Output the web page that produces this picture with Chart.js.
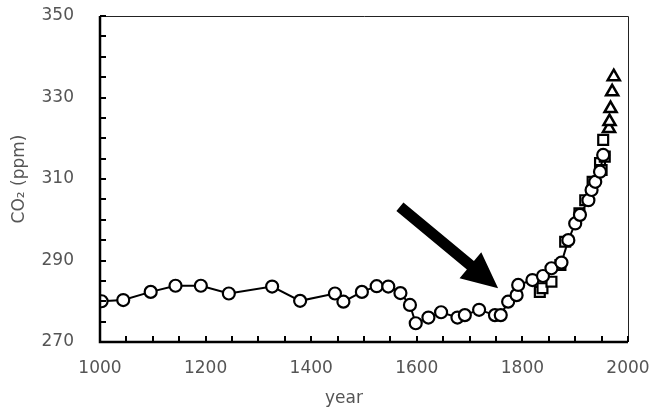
<!DOCTYPE html>
<html>
<head>
<meta charset="utf-8">
<script src="https://cdn.jsdelivr.net/npm/chart.js@4/dist/chart.umd.min.js"></script>
<style>
  body { margin: 0; background: #fff; }
</style>
</head>
<body>
<canvas id="co2Chart" width="663" height="410"></canvas>
<script>
// ice core record (circles, joined by a line)
const circleYears = [1003, 1044, 1096, 1143, 1191, 1244, 1326, 1379, 1445, 1461, 1496, 1524, 1546, 1569, 1587, 1598, 1622, 1646, 1677, 1691, 1718, 1748, 1759, 1773, 1789, 1792, 1819, 1839, 1855, 1874, 1887, 1900, 1909, 1925, 1931, 1938, 1947, 1953];
const circleCO2 = [280.0, 280.3, 282.3, 283.8, 283.8, 281.9, 283.6, 280.1, 281.9, 279.9, 282.3, 283.7, 283.6, 282.0, 279.1, 274.6, 276.0, 277.3, 276.0, 276.6, 277.9, 276.6, 276.6, 279.9, 281.5, 284.0, 285.2, 286.2, 288.1, 289.5, 295.0, 299.1, 301.2, 304.8, 307.3, 309.3, 311.8, 315.9];

// second ice core (squares)
const squareYears = [1833, 1838, 1855, 1872, 1881, 1908, 1919, 1933, 1947, 1950, 1953, 1956];
const squareCO2 = [282.3, 283.2, 284.8, 288.9, 294.6, 301.6, 304.8, 309.3, 313.9, 312.2, 319.6, 315.5];

// atmospheric measurements (triangles)
const triangleYears = [1964, 1965, 1967, 1970, 1973];
const triangleCO2 = [322.4, 324.1, 327.3, 331.4, 335.1];

const yearTicks = [1000, 1200, 1400, 1600, 1800, 2000];
const co2Ticks = [270, 290, 310, 330, 350];

// arrow annotation, in data units
const arrowFrom = { year: 1568, co2: 303.2 };
const arrowTo = { year: 1754, co2: 283.2 };

function toPoints(xs, ys) {
  return xs.map((x, i) => ({ x: x, y: ys[i] }));
}

const labelFont = { family: "DejaVu Sans", size: 17 };
const textColor = "#555";

// frame, inward ticks, titles and the arrow
const framePlugin = {
  id: "frame",
  afterDraw(chart) {
    const ctx = chart.ctx;
    const a = chart.chartArea;
    const xs = chart.scales.x;
    const ys = chart.scales.y;
    ctx.save();

    // thin top and right border
    ctx.strokeStyle = "#222";
    ctx.lineWidth = 1;
    ctx.beginPath();
    ctx.moveTo(a.left, a.top + 0.5);
    ctx.lineTo(a.right + 0.5, a.top + 0.5);
    ctx.lineTo(a.right + 0.5, a.bottom);
    ctx.stroke();

    // heavy left and bottom axes
    ctx.strokeStyle = "#000";
    ctx.lineWidth = 2.5;
    ctx.beginPath();
    ctx.moveTo(a.left, a.top);
    ctx.lineTo(a.left, a.bottom);
    ctx.lineTo(a.right, a.bottom);
    ctx.stroke();

    // ticks pointing inward
    ctx.lineWidth = 2;
    ctx.beginPath();
    ys.ticks.forEach(t => {
      const py = Math.round(ys.getPixelForValue(t.value));
      ctx.moveTo(a.left, py);
      ctx.lineTo(a.left + 6, py);
    });
    xs.ticks.forEach(t => {
      const px = Math.round(xs.getPixelForValue(t.value));
      ctx.moveTo(px, a.bottom);
      ctx.lineTo(px, a.bottom - 6);
    });
    ctx.stroke();

    // axis titles
    ctx.fillStyle = textColor;
    ctx.font = "17px 'DejaVu Sans'";
    ctx.textAlign = "center";
    ctx.textBaseline = "middle";
    ctx.fillText("year", (a.left + a.right) / 2 - 20, a.bottom + 57);
    ctx.translate(20, (a.top + a.bottom) / 2);
    ctx.rotate(-Math.PI / 2);
    ctx.fillText("CO\u2082 (ppm)", 0, 0);
    ctx.setTransform(1, 0, 0, 1, 0, 0);

    // arrow
    const x0 = xs.getPixelForValue(arrowFrom.year);
    const y0 = ys.getPixelForValue(arrowFrom.co2);
    const x1 = xs.getPixelForValue(arrowTo.year);
    const y1 = ys.getPixelForValue(arrowTo.co2);
    const ang = Math.atan2(y1 - y0, x1 - x0);
    const len = Math.hypot(x1 - x0, y1 - y0);
    const headLen = 36, headW = 17, shaftW = 5.5;
    ctx.translate(x0, y0);
    ctx.rotate(ang);
    ctx.fillStyle = "#000";
    ctx.beginPath();
    ctx.moveTo(0, -shaftW);
    ctx.lineTo(len - headLen, -shaftW);
    ctx.lineTo(len - headLen, -headW);
    ctx.lineTo(len, 0);
    ctx.lineTo(len - headLen, headW);
    ctx.lineTo(len - headLen, shaftW);
    ctx.lineTo(0, shaftW);
    ctx.closePath();
    ctx.fill();
    ctx.restore();
  }
};

new Chart(document.getElementById("co2Chart"), {
  type: "scatter",
  data: {
    datasets: [
      {
        label: "ice core",
        data: toPoints(circleYears, circleCO2),
        showLine: true,
        borderColor: "#000",
        borderWidth: 2,
        pointStyle: "circle",
        pointRadius: 6,
        pointBorderWidth: 2.2,
        pointBackgroundColor: "#fff",
        pointBorderColor: "#000",
      },
      {
        label: "ice core 2",
        data: toPoints(squareYears, squareCO2),
        showLine: false,
        pointStyle: "rect",
        pointRadius: 7,
        pointBorderWidth: 2.2,
        pointBackgroundColor: "#fff",
        pointBorderColor: "#000",
      },
      {
        label: "atmosphere",
        data: toPoints(triangleYears, triangleCO2),
        showLine: false,
        pointStyle: "triangle",
        pointRadius: 7,
        pointBorderWidth: 2.5,
        pointBackgroundColor: "#fff",
        pointBorderColor: "#000",
      },
    ],
  },
  options: {
    responsive: false,
    animation: false,
    layout: { padding: { top: 16, right: 35, left: 0, bottom: 0 } },
    plugins: { legend: { display: false }, tooltip: { enabled: false } },
    scales: {
      x: {
        type: "linear",
        min: 1000,
        max: 2000,
        grid: { display: false },
        border: { display: false },
        afterFit: s => { s.height = 68; s.paddingLeft = 0; s.paddingRight = 0; },
        ticks: {
          stepSize: 50,
          autoSkip: false,
          maxRotation: 0,
          padding: 8,
          color: textColor,
          font: labelFont,
          callback: v => (yearTicks.includes(v) ? String(v) : ""),
        },
      },
      y: {
        min: 270,
        max: 350,
        grid: { display: false },
        border: { display: false },
        afterFit: s => { s.width = 100; s.paddingTop = 0; s.paddingBottom = 0; },
        ticks: {
          stepSize: 5,
          autoSkip: false,
          padding: 18,
          color: textColor,
          font: labelFont,
          callback: v => (co2Ticks.includes(v) ? String(v) : ""),
        },
      },
    },
  },
  plugins: [framePlugin],
});
</script>
</body>
</html>
